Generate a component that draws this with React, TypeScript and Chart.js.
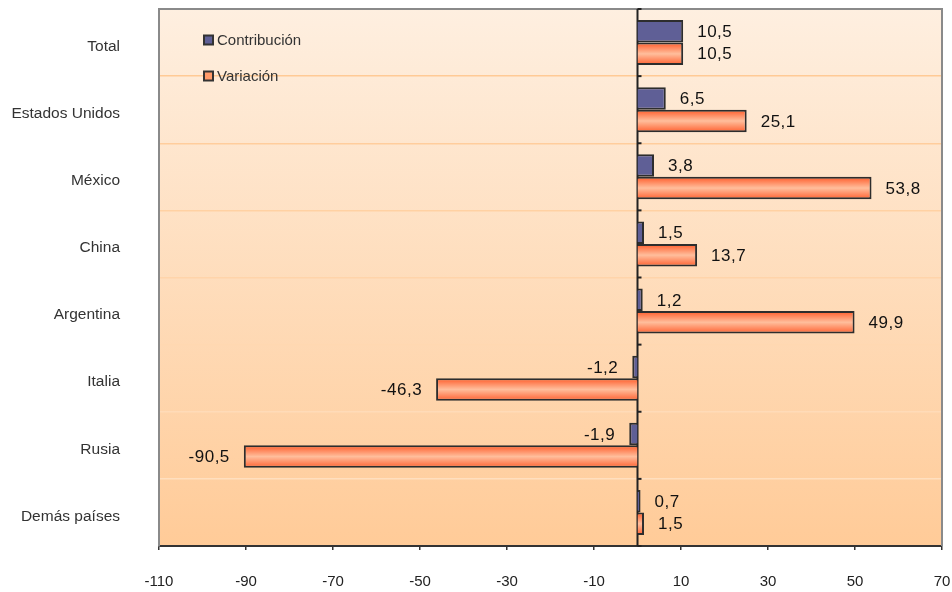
import React, { useEffect, useRef } from "react";
import { Chart, registerables } from "chart.js";

Chart.register(...registerables);

const categories = ["Total", "Estados Unidos", "México", "China", "Argentina", "Italia", "Rusia", "Demás países"];
const contribucion = [10.5, 6.5, 3.8, 1.5, 1.2, -1.2, -1.9, 0.7];
const variacion = [10.5, 25.1, 53.8, 13.7, 49.9, -46.3, -90.5, 1.5];
const xTicks = [-110, -90, -70, -50, -30, -10, 10, 30, 50, 70];
const seriesNames = ["Contribución", "Variación"];

const FONT = "'Liberation Sans', Arial, sans-serif";
const CAT_PCT = 0.67;

const fmt = (v: number) => v.toFixed(1).replace(".", ",");

function mixHex(a: string, b: string, t: number) {
  const pa = [1, 3, 5].map((i) => parseInt(a.slice(i, i + 2), 16));
  const pb = [1, 3, 5].map((i) => parseInt(b.slice(i, i + 2), 16));
  const m = pa.map((v, i) => Math.round(v + (pb[i] - v) * t));
  return `rgb(${m[0]},${m[1]},${m[2]})`;
}

const chartPlugin = {
  id: "customDecor",
  beforeDraw(chart: any) {
    const { ctx, chartArea: a } = chart;
    if (!a) return;
    const g = ctx.createLinearGradient(0, a.top, 0, a.bottom);
    g.addColorStop(0, "#FEEFE0");
    g.addColorStop(1, "#FFCB98");
    ctx.save();
    ctx.fillStyle = g;
    ctx.fillRect(a.left, a.top, a.right - a.left, a.bottom - a.top);
    ctx.restore();
  },
  beforeDatasetsDraw(chart: any) {
    const { ctx, chartArea: a, scales } = chart;
    ctx.save();
    ctx.strokeStyle = "#8a8a8a";
    ctx.lineWidth = 2;
    ctx.beginPath();
    ctx.moveTo(a.left, a.top);
    ctx.lineTo(a.right, a.top);
    ctx.lineTo(a.right, a.bottom);
    ctx.stroke();
    const x0 = scales.x.getPixelForValue(0);
    ctx.strokeStyle = "#222";
    ctx.lineWidth = 2;
    ctx.beginPath();
    ctx.moveTo(x0, a.top);
    ctx.lineTo(x0, a.bottom);
    ctx.stroke();
    for (let i = 0; i <= categories.length; i++) {
      const y =
        i === 0
          ? a.top
          : i === categories.length
          ? a.bottom
          : (scales.y.getPixelForValue(i - 1) + scales.y.getPixelForValue(i)) / 2;
      ctx.beginPath();
      ctx.moveTo(x0, y);
      ctx.lineTo(x0 + 4, y);
      ctx.stroke();
    }
    ctx.font = `15px ${FONT}`;
    ctx.textBaseline = "middle";
    ctx.textAlign = "left";
    chart.data.datasets.forEach((ds: any, i: number) => {
      const lx = a.left + 45;
      const ly = a.top + 31 + i * 36;
      ctx.fillStyle = i === 0 ? "#5F5F96" : "#FF9A6A";
      ctx.fillRect(lx, ly - 4.5, 9, 9);
      ctx.strokeStyle = "#333";
      ctx.lineWidth = 2;
      ctx.strokeRect(lx, ly - 4.5, 9, 9);
      ctx.fillStyle = "#333";
      ctx.fillText(ds.label, lx + 13, ly + 1);
    });
    ctx.restore();
  },
  afterDatasetsDraw(chart: any) {
    const { ctx } = chart;
    ctx.save();
    ctx.font = `17px ${FONT}`;
    (ctx as any).letterSpacing = "0.5px";
    ctx.fillStyle = "#111";
    ctx.textBaseline = "middle";
    chart.data.datasets.forEach((ds: any, di: number) => {
      const meta = chart.getDatasetMeta(di);
      meta.data.forEach((el: any, i: number) => {
        const v = ds.data[i];
        const off = 14;
        if (v >= 0) {
          ctx.textAlign = "left";
          ctx.fillText(fmt(v), el.x + off, el.y + 1);
        } else {
          ctx.textAlign = "right";
          ctx.fillText(fmt(v), el.x - off, el.y + 1);
        }
      });
    });
    (ctx as any).letterSpacing = "0px";
    ctx.restore();
  },
};

function orangeFill(c: any) {
  const chart = c.chart;
  const ys = chart.scales && chart.scales.y;
  if (!ys || !chart.chartArea) return "#FF9A6A";
  const i = c.dataIndex;
  const center = ys.getPixelForValue(i);
  const step = Math.abs(ys.getPixelForValue(1) - ys.getPixelForValue(0));
  const size = (step * CAT_PCT) / 2;
  const g = chart.ctx.createLinearGradient(0, center, 0, center + size);
  g.addColorStop(0, "#FF5A28");
  g.addColorStop(0.5, "#FFBE9C");
  g.addColorStop(1, "#FF6030");
  return g;
}

export default function App() {
  const ref = useRef<HTMLCanvasElement>(null);
  useEffect(() => {
    if (!ref.current) return;
    const chart = new Chart(ref.current, {
      type: "bar",
      data: {
        labels: categories,
        datasets: [
          {
            label: seriesNames[0],
            data: contribucion,
            backgroundColor: "#5F5F96",
            borderColor: "#2d2d2d",
            borderWidth: 2,
            categoryPercentage: CAT_PCT,
            barPercentage: 1,
          },
          {
            label: seriesNames[1],
            data: variacion,
            backgroundColor: orangeFill as any,
            borderColor: "#2d2d2d",
            borderWidth: 2,
            categoryPercentage: CAT_PCT,
            barPercentage: 1,
          },
        ],
      },
      options: {
        indexAxis: "y",
        animation: false,
        responsive: false,
        layout: { padding: { top: 9, right: 10, left: 0, bottom: 0 } },
        plugins: { legend: { display: false }, tooltip: { enabled: false } },
        scales: {
          x: {
            type: "linear",
            min: -110,
            max: 70,
            afterBuildTicks: (s: any) => {
              s.ticks = xTicks.map((v) => ({ value: v }));
            },
            afterFit: (s: any) => {
              s.height = 46;
              s.paddingLeft = 0;
              s.paddingRight = 0;
            },
            grid: {
              drawOnChartArea: false,
              drawTicks: true,
              tickLength: 4,
              color: "#333",
              lineWidth: 1.5,
            },
            border: { display: true, color: "#333", width: 2 },
            ticks: {
              padding: 23,
              color: "#222",
              font: { family: FONT, size: 15 },
              callback: (v: any) => String(v),
            },
          },
          y: {
            type: "category",
            afterFit: (s: any) => {
              s.width = 159;
              s.paddingTop = 0;
              s.paddingBottom = 0;
            },
            grid: {
              offset: true,
              drawTicks: false,
              color: (c: any) => mixHex("#FFC68E", "#FFE2C6", (c.index || 0) / categories.length),
              lineWidth: 1.5,
            },
            border: { display: true, color: "#8a8a8a", width: 2 },
            ticks: {
              padding: 39,
              labelOffset: 4,
              color: "#333",
              font: { family: FONT, size: 15.5 },
            },
          },
        },
      },
      plugins: [chartPlugin],
    });
    return () => chart.destroy();
  }, []);
  return (
    <div style={{ position: "fixed", left: 0, top: 0, width: 952, height: 592, background: "#fff" }}>
      <canvas ref={ref} width={952} height={592} />
    </div>
  );
}
